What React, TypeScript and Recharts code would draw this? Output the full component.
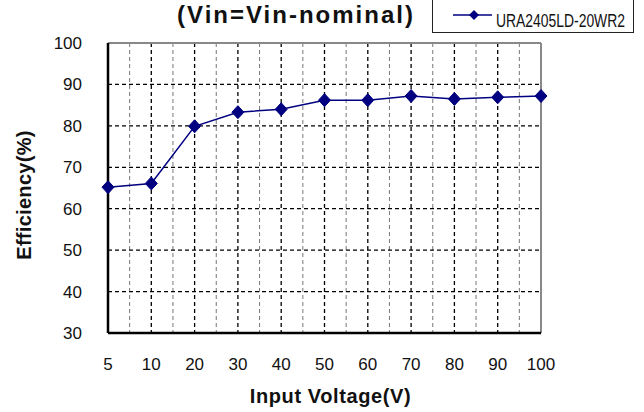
import React from 'react';
import {
  LineChart,
  Line,
  XAxis,
  YAxis,
  CartesianGrid,
  ReferenceLine,
  Legend,
} from 'recharts';

const voltages = ['5', '10', '20', '30', '40', '50', '60', '70', '80', '90', '100'];
const efficiency = [65.2, 66.1, 79.9, 83.3, 84.0, 86.2, 86.2, 87.2, 86.5, 86.9, 87.2];
const yTicks = [30, 40, 50, 60, 70, 80, 90, 100];
const seriesName = 'URA2405LD-20WR2';
const titleText = '(Vin=Vin-nominal)';
const xTitle = 'Input Voltage(V)';
const yTitle = 'Efficiency(%)';

const data = voltages.map((v, i) => ({ v, eff: efficiency[i] }));

const FONT = '"Liberation Sans", Arial, sans-serif';
const NAVY = '#000080';

const Diamond = (props: any) => {
  const { cx, cy } = props;
  if (cx == null || cy == null) return null;
  const w = 6;
  const h = 6.5;
  return (
    <path
      d={`M${cx},${cy - h} L${cx + w},${cy} L${cx},${cy + h} L${cx - w},${cy} Z`}
      fill={NAVY}
      stroke={NAVY}
      strokeWidth={1}
    />
  );
};

const LegendBox = (props: any) => {
  const p = props.payload && props.payload[0];
  const name = p ? p.value : seriesName;
  return (
    <div
      style={{
        position: 'relative',
        width: 202,
        height: 45,
        border: '1.5px solid #222',
        boxSizing: 'border-box',
        background: '#fff',
      }}
    >
      <svg
        width={199}
        height={42}
        style={{ display: 'block', overflow: 'visible' }}
      >
        <line x1={20} y1={26} x2={59} y2={26} stroke={NAVY} strokeWidth={1.5} />
        <path d="M41,21 L46,26 L41,31 L36,26 Z" fill={NAVY} />
        <text
          x={63}
          y={38}
          fontSize={16}
          fontFamily={FONT}
          fill="#111"
          textLength={129}
          lengthAdjust="spacingAndGlyphs"
          transform="translate(0,38) scale(1,1.12) translate(0,-38)"
        >
          {name}
        </text>
      </svg>
    </div>
  );
};

const catGrid = (props: any) => {
  const off = props.offset || {};
  const left = off.left ?? 108;
  const width = off.width ?? 433;
  const n = voltages.length - 1;
  const res: number[] = [];
  for (let i = 1; i < n; i++) res.push(left + (width * i) / n);
  return res;
};

const midGrid = (props: any) => {
  const off = props.offset || {};
  const left = off.left ?? 108;
  const width = off.width ?? 433;
  const n = voltages.length - 1;
  const res: number[] = [];
  for (let i = 0; i < n; i++) res.push(left + (width * (2 * i + 1)) / (2 * n));
  return res;
};

const XLabel = (props: any) => {
  const vb = props.viewBox || { x: 108, y: 333, width: 433, height: 79 };
  return (
    <text
      x={vb.x + vb.width / 2 + 6}
      y={vb.y + vb.height - 9}
      textAnchor="middle"
      fontSize={20}
      fontWeight="bold"
      fontFamily={FONT}
      letterSpacing={0.6}
      fill="#111"
    >
      {xTitle}
    </text>
  );
};

const YLabel = (props: any) => {
  const vb = props.viewBox || { x: 48, y: 43, width: 60, height: 290 };
  const x = vb.x - 17;
  const y = vb.y + vb.height / 2 + 7;
  return (
    <text
      x={x}
      y={y}
      textAnchor="middle"
      fontSize={20}
      fontWeight="bold"
      fontFamily={FONT}
      letterSpacing={0.3}
      fill="#111"
      transform={`rotate(-90, ${x}, ${y})`}
    >
      {yTitle}
    </text>
  );
};

export default function App() {
  return (
    <div
      style={{
        position: 'absolute',
        left: 0,
        top: 0,
        width: 644,
        height: 412,
        background: '#fff',
        overflow: 'hidden',
        fontFamily: FONT,
      }}
    >
      <div
        style={{
          position: 'absolute',
          left: 146,
          top: 1,
          width: 300,
          textAlign: 'center',
          fontSize: 24,
          lineHeight: '28px',
          fontWeight: 'bold',
          letterSpacing: 2,
          color: '#111',
          zIndex: 2,
        }}
      >
        {titleText}
      </div>
      <LineChart
        width={644}
        height={412}
        data={data}
        margin={{ top: 43, right: 103, left: 48, bottom: 0 }}
      >
        <CartesianGrid
          stroke="#777"
          strokeDasharray="4 3"
          strokeWidth={1}
          horizontal={false}
          vertical
          verticalCoordinatesGenerator={midGrid}
        />
        <CartesianGrid
          stroke="#000"
          strokeDasharray="4 3"
          strokeWidth={1.3}
          horizontal
          vertical
          verticalCoordinatesGenerator={catGrid}
        />
        <XAxis
          dataKey="v"
          height={79}
          tickSize={0}
          tickMargin={25}
          axisLine={{ stroke: '#000', strokeWidth: 2.5 }}
          tick={{ fontSize: 17, fill: '#111', fontFamily: FONT }}
          interval={0}
          label={<XLabel />}
        />
        <YAxis
          width={60}
          domain={[30, 100]}
          ticks={yTicks}
          tickSize={0}
          tickMargin={26}
          allowDataOverflow
          axisLine={{ stroke: '#000', strokeWidth: 2.5 }}
          tick={{ fontSize: 17, fill: '#111', fontFamily: FONT }}
          label={<YLabel />}
        />
        <ReferenceLine y={100} stroke="#888" strokeWidth={2} />
        <ReferenceLine x="100" stroke="#888" strokeWidth={2} />
        <Legend
          layout="horizontal"
          verticalAlign="middle"
          align="center"
          content={<LegendBox />}
          wrapperStyle={{ position: 'absolute', left: 432, top: -12, width: 202, height: 45 }}
        />
        <Line
          type="linear"
          dataKey="eff"
          name={seriesName}
          stroke={NAVY}
          strokeWidth={1.5}
          dot={<Diamond />}
          activeDot={false}
          isAnimationActive={false}
        />
      </LineChart>
    </div>
  );
}
